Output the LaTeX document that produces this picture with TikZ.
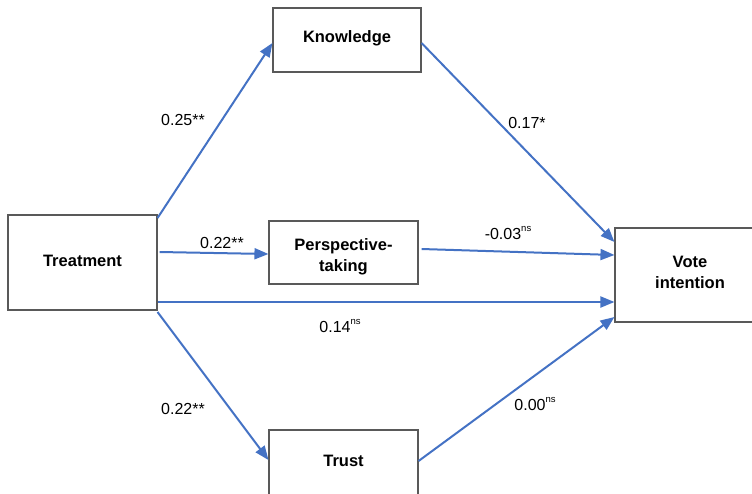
\documentclass[tikz,border=0pt]{standalone}
\usepackage{fontspec}
\setmainfont{Liberation Sans}
\usetikzlibrary{arrows.meta}
\definecolor{arrowblue}{HTML}{4472C4}
\definecolor{boxgray}{HTML}{595959}
\newcommand{\nsup}[1]{\raisebox{0.55em}{\fontsize{9.5}{9.5}\selectfont #1}}
\newcommand{\shiftup}[2]{\raisebox{#1}[\height][\depth]{#2}}
\newcommand{\twolines}[3]{\shiftup{#1}{\begin{tabular}{@{}c@{}}#2\\#3\end{tabular}}}
\tikzset{
  box/.style={draw=boxgray, line width=1.1pt, fill=white, align=center, inner sep=0pt,
    font=\fontsize{16.5}{21}\selectfont\bfseries},
  link/.style={draw=arrowblue, line width=2pt, -{Triangle[length=14pt,width=11pt]}},
  coef/.style={font=\fontsize{16}{18}\selectfont, inner sep=0pt}
}
\begin{document}
\begin{tikzpicture}[x=1pt,y=-1pt]
\useasboundingbox (0,0) rectangle (752,493);
\node[box, minimum width=148pt, minimum height=64pt] (know) at (347,40) {\shiftup{2pt}{Knowledge}};
\node[box, minimum width=149pt, minimum height=95pt] (treat) at (82.5,262.5) {\shiftup{2pt}{Treatment}};
\node[box, minimum width=149pt, minimum height=63pt] (persp) at (343.5,252.5) {\twolines{-4pt}{Perspective-}{taking}};
\node[box, minimum width=150pt, minimum height=94pt] (vote) at (690,275) {\twolines{1.5pt}{Vote}{intention}};
\node[box, minimum width=149pt, minimum height=65pt] (trust) at (343.5,462.5) {\shiftup{2pt}{Trust}};

\draw[link] ([yshift=44.5pt]treat.east) -- ([yshift=-3pt]know.west);
\draw[link] ([yshift=10.5pt,xshift=2pt]treat.east) -- ([yshift=-1.5pt]persp.west);
\draw[link] ([yshift=-39.5pt]treat.east) -- ([yshift=-27pt]vote.west);
\draw[link] ([yshift=-49.5pt]treat.east) -- ([yshift=2.5pt]trust.west);
\draw[link] ([yshift=-3pt]know.east) -- ([yshift=33pt]vote.west);
\draw[link] ([yshift=3.5pt,xshift=3pt]persp.east) -- ([yshift=20pt]vote.west);
\draw[link] ([yshift=1.5pt]trust.east) -- ([yshift=-42pt]vote.west);

\node[coef] (c1) at (183,120) {0.25**};
\node[coef] (c2) at (222,243) {0.22**};
\node[coef] (c3) at (183,409) {0.22**};
\node[coef] (c4) at (340,326) {0.14\nsup{ns}};
\node[coef] (c5) at (508,233) {-0.03\nsup{ns}};
\node[coef] (c6) at (527,123) {0.17*};
\node[coef] (c7) at (535,404) {0.00\nsup{ns}};
\end{tikzpicture}
\end{document}
